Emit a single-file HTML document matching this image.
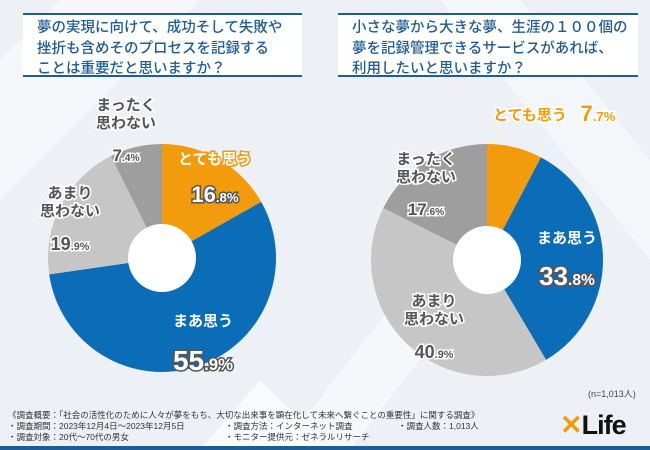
<!DOCTYPE html>
<html><head><meta charset="utf-8"><style>
body{margin:0;width:650px;height:450px;overflow:hidden;font-family:"Liberation Sans","Noto Sans CJK JP",sans-serif;background:#edf1f6;position:relative}
.q{position:absolute;background:#fff;border-top:2px solid #1f5c91;border-bottom:2px solid #1f5c91;font-size:14.5px;line-height:20.5px;color:#1f5c91;padding:3px 0 0 14px;box-sizing:border-box;white-space:nowrap;font-weight:500}
.foot{position:absolute;font-size:8.5px;color:#333;line-height:11px;white-space:nowrap}
</style></head><body>
<svg width="650" height="450" style="position:absolute;left:0;top:0">
<polygon points="0,60 60,0 200,0 0,200" fill="#f7f9fc" opacity=".8"/>
<polygon points="280,450 450,230 520,230 350,450" fill="#f8fafc" opacity=".7"/>
<polygon points="520,0 650,160 650,260 440,0" fill="#f7f9fc" opacity=".7"/>
<polygon points="200,450 260,380 330,450" fill="#f8fafc"/>
<rect x="0" y="446" width="650" height="4" fill="#1f5c91"/>
</svg>
<div class="q" style="left:23px;top:13px;width:279px;height:64px">夢の実現に向けて、成功そして失敗や<br>挫折も含めそのプロセスを記録する<br>ことは重要だと思いますか？</div>
<div class="q" style="left:338px;top:13px;width:300px;height:64px">小さな夢から大きな夢、生涯の１００個の<br>夢を記録管理できるサービスがあれば、<br>利用したいと思いますか？</div>
<svg id="ch" width="650" height="450" style="position:absolute;left:0;top:0"></svg>
<div class="foot" style="left:588px;top:389px;font-size:9px;color:#444">(n=1,013人)</div>
<div class="foot" style="left:8px;top:410px">《調査概要：「社会の活性化のために人々が夢をもち、大切な出来事を顕在化して未来へ繋ぐことの重要性」に関する調査》<br>・調査期間：2023年12月4日～2023年12月5日<br>・調査対象：20代～70代の男女</div>
<div class="foot" style="left:225px;top:421px">・調査方法：インターネット調査<br>・モニター提供元：ゼネラルリサーチ</div>
<div class="foot" style="left:398px;top:421px">・調査人数：1,013人</div>
<div style="position:absolute;left:560px;top:410px;font-size:27px;font-weight:bold;color:#111;letter-spacing:-1px"><span style="color:#f29b0c">✕</span>Life</div>
<script>
const categories=["とても思う","まあ思う","あまり思わない","まったく思わない"];
const values1=[16.8,55.9,19.9,7.4];
const values2=[7.7,33.8,40.9,17.6];
const colors=["#f29b0c","#0b6db7","#c6c6c6","#9e9e9e"];
const svg=document.getElementById('ch');
const NS="http://www.w3.org/2000/svg";
function pt(cx,cy,r,f){const a=f*2*Math.PI;return [cx+r*Math.sin(a),cy-r*Math.cos(a)];}
function donut(vals,cx,cy,r,hole,name,labels){
 const tot=vals.reduce((a,b)=>a+b,0);let acc=0;
 vals.forEach((v,i)=>{
  const f0=acc/tot,f1=(acc+v)/tot;acc+=v;
  const p0=pt(cx,cy,r,f0),p1=pt(cx,cy,r,f1);
  const p=document.createElementNS(NS,'path');
  p.setAttribute('d',`M${cx},${cy}L${p0[0]},${p0[1]}A${r},${r} 0 ${f1-f0>.5?1:0} 1 ${p1[0]},${p1[1]}Z`);
  p.setAttribute('fill',colors[i]);
  
  
  svg.appendChild(p);
 });
 const c=document.createElementNS(NS,'circle');c.setAttribute('cx',cx);c.setAttribute('cy',cy);c.setAttribute('r',hole);c.setAttribute('fill','#fff');svg.appendChild(c);
 vals.forEach((v,i)=>{
  const L=labels[i];
  const lines=L.t;const white=i<2;
  lines.forEach((t,k)=>{
   const e=document.createElementNS(NS,'text');
   e.setAttribute('x',L.x);e.setAttribute('y',L.y+k*18);e.setAttribute('text-anchor','middle');
   e.setAttribute('font-size','15');e.setAttribute('font-weight','bold');
   e.setAttribute('fill',white?(L.out?colors[i]:'#fff'):'#555');
   e.setAttribute('stroke',white&&!L.out?colors[i]:'#fff');e.setAttribute('stroke-width','3');e.setAttribute('paint-order','stroke');
   e.textContent=t;
   
   
   svg.appendChild(e);
  });
  const e=document.createElementNS(NS,'text');
  const big=L.big||20;
  e.setAttribute('x',L.px!==undefined?L.px:L.x);e.setAttribute('y',L.py!==undefined?L.py:L.y+lines.length*18+big-2);e.setAttribute('text-anchor','middle');
  e.setAttribute('font-size',big);e.setAttribute('font-weight','bold');
  e.setAttribute('fill',white?(L.out?colors[i]:'#fff'):'#555');
  e.setAttribute('stroke',white?(L.out?'#fff':'#555'):'#fff');e.setAttribute('stroke-width','3');e.setAttribute('paint-order','stroke');
  e.innerHTML=Math.floor(v)+'<tspan font-size="'+(big*0.6)+'">.'+Math.round((v%1)*10)+'%</tspan>';
  
  
  svg.appendChild(e);
 });
}
donut(values1,162,258,114,34,'chart1',[
 {t:["とても思う"],x:215,y:164,big:22},
 {t:["まあ思う"],x:203,y:326,big:28},
 {t:["あまり","思わない"],x:70,y:198,big:18},
 {t:["まったく","思わない"],x:126,y:110,big:17}]);
donut(values2,487,260,116,34,'chart2',[
 {t:["とても思う"],x:530,y:120,big:22,out:true,px:598,py:121},
 {t:["まあ思う"],x:567,y:243,big:26},
 {t:["あまり","思わない"],x:434,y:306,big:18},
 {t:["まったく","思わない"],x:426,y:164,big:17}]);
</script>
</body></html>
